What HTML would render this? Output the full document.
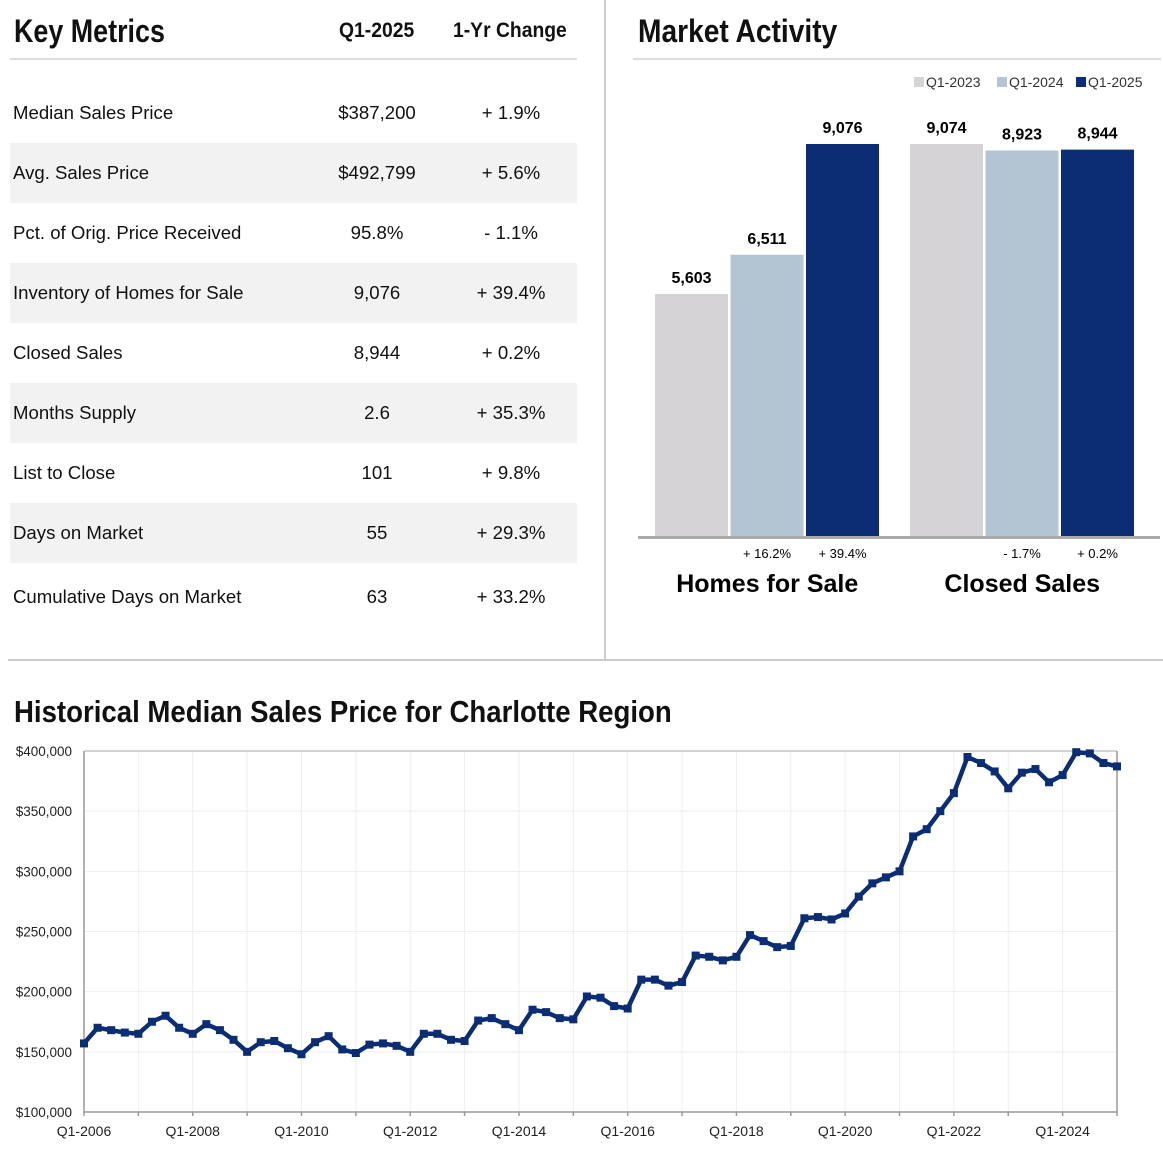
<!DOCTYPE html>
<html><head><meta charset="utf-8">
<style>
body{margin:0;width:1163px;height:1157px;background:#fff;font-family:"Liberation Sans",sans-serif;position:relative;overflow:hidden;color:#111}
.abs{position:absolute}
.h{font-family:"Liberation Sans",sans-serif;font-weight:bold;transform-origin:left top;white-space:nowrap}
.row{position:absolute;left:10px;width:567px;height:60px;font-size:18.6px;line-height:60px}
.row span{position:absolute}
.row .l{left:3px}
.row .v{left:307px;width:120px;text-align:center}
.row .c{left:441px;width:120px;text-align:center}
.stripe{background:#f2f2f2}
</style></head><body>
<div class="abs h" style="left:14px;top:13px;font-size:32px;transform:scaleX(0.84)">Key Metrics</div>
<div class="abs h" style="left:339px;top:19px;font-size:21px;transform:scaleX(0.92)">Q1-2025</div>
<div class="abs h" style="left:453px;top:19px;font-size:21px;transform:scaleX(0.92)">1-Yr Change</div>
<div class="abs" style="left:10px;top:58px;width:567px;height:2px;background:#ddd"></div>
<div id="tbl"></div>

<div class="abs" style="left:604px;top:0;width:2px;height:660px;background:#ccc"></div>
<div class="abs" style="left:8px;top:659px;width:1155px;height:2px;background:#ccc"></div>

<div class="abs h" style="left:638px;top:13px;font-size:32px;transform:scaleX(0.88)">Market Activity</div>
<div class="abs" style="left:633px;top:58px;width:528px;height:2px;background:#ddd"></div>
<svg class="abs" style="left:0;top:0" width="1163" height="660" id="bars"></svg>

<div class="abs h" style="left:14px;top:694px;font-size:31px;transform:scaleX(0.89)">Historical Median Sales Price for Charlotte Region</div>
<svg class="abs" style="left:0;top:730px" width="1163" height="427" id="line"></svg>

<script>
const metricLabels=["Median Sales Price","Avg. Sales Price","Pct. of Orig. Price Received","Inventory of Homes for Sale","Closed Sales","Months Supply","List to Close","Days on Market","Cumulative Days on Market"];
const metricValues=["$387,200","$492,799","95.8%","9,076","8,944","2.6","101","55","63"];
const metricChanges=["+ 1.9%","+ 5.6%","- 1.1%","+ 39.4%","+ 0.2%","+ 35.3%","+ 9.8%","+ 29.3%","+ 33.2%"];
const tbl=document.getElementById('tbl');
metricLabels.forEach((lab,i)=>{
  const r=document.createElement('div');
  r.className='row'+(i%2?' stripe':'');
  r.style.top=(83+i*60+(i==8?4:0))+'px';
  
  
  r.innerHTML='<span class="l">'+lab+'</span><span class="v">'+metricValues[i]+'</span><span class="c">'+metricChanges[i]+'</span>';
  tbl.appendChild(r);
});

const NS="http://www.w3.org/2000/svg";
function mk(svg,tag,attrs,txt){const e=document.createElementNS(NS,tag);for(const k in attrs)e.setAttribute(k,attrs[k]);if(txt!=null)e.textContent=txt;svg.appendChild(e);return e;}

// Bar chart
const groups=["Homes for Sale","Closed Sales"];
const seriesNames=["Q1-2023","Q1-2024","Q1-2025"];
const homesValues=[5603,6511,9076];
const closedValues=[9074,8923,8944];
const homesChanges=["","+ 16.2%","+ 39.4%"];
const closedChanges=["","- 1.7%","+ 0.2%"];
const colors=["#d5d3d6","#b3c4d2","#0b2d74"];
const bs=document.getElementById('bars');
const base=536, hMax=392;
const gx=[655,910], bw=73, bstep=75.5;
[homesValues,closedValues].forEach((vals,g)=>{
  const mx=Math.max(...vals);
  const ch=g?closedChanges:homesChanges;
  vals.forEach((v,i)=>{
    const h=v/mx*hMax, x=gx[g]+i*bstep;
    const r=mk(bs,'rect',{x:x,y:base-h,width:bw,height:h,fill:colors[i]});
    
    
    const t=mk(bs,'text',{x:x+bw/2,y:base-h-11,'text-anchor':'middle','font-size':16,'font-weight':'bold','font-family':'Liberation Sans'},v.toLocaleString('en-US'));
    
    
    if(ch[i]){const c=mk(bs,'text',{x:x+bw/2,y:558,'text-anchor':'middle','font-size':13,'font-family':'Liberation Sans'},ch[i]);
      
      }
  });
  const gl=mk(bs,'text',{x:gx[g]+bstep*1.5-1,y:592,'text-anchor':'middle','font-size':25,'font-weight':'bold','font-family':'Liberation Sans'},groups[g]);
  
  
});
const axl=mk(bs,'rect',{x:638,y:536,width:522,height:3,fill:'#aaa'});


[914,997,1076].forEach((x,i)=>{
  const sq=mk(bs,'rect',{x:x,y:77,width:10,height:10,fill:colors[i]});
  
  
  const t=mk(bs,'text',{x:x+12,y:87,'font-size':14,fill:'#333','font-family':'Liberation Sans'},seriesNames[i]);
  
  
});

// Line chart
const medianPrices=[157,170,168,166,165,175,180,170,165,173,168,160,150,158,159,153,148,158,163,152,149,156,157,155,150,165,165,160,159,176,178,173,168,185,183,178,177,196,195,188,186,210,210,205,208,230,229,226,229,247,242,237,238,261,262,260,265,279,290,295,300,329,335,350,365,395,390,383,369,382,385,374,380,399,398,390,387.2];
const yTicks=[100,150,200,250,300,350,400];
const xTickLabels=["Q1-2006","Q1-2008","Q1-2010","Q1-2012","Q1-2014","Q1-2016","Q1-2018","Q1-2020","Q1-2022","Q1-2024"];
const ls=document.getElementById('line');
const X0=84,X1=1117,Y0=382,Y1=21;
const xs=i=>X0+(X1-X0)*i/(medianPrices.length-1);
const ys=v=>Y0-(v-100)/300*(Y0-Y1);
for(let i=0;i<medianPrices.length;i+=4){
  const g=mk(ls,'line',{x1:xs(i),x2:xs(i),y1:Y1,y2:Y0,stroke:'#eee','stroke-width':1});
  
  
  const tk=mk(ls,'line',{x1:xs(i),x2:xs(i),y1:Y0,y2:Y0+4,stroke:'#999','stroke-width':1.5});
  
  
}
yTicks.forEach(v=>{
  const g=mk(ls,'line',{x1:X0,x2:X1,y1:ys(v),y2:ys(v),stroke:v==400?'#aaa':'#eee','stroke-width':1});
  
  
  const t=mk(ls,'text',{x:72,y:ys(v)+5,'text-anchor':'end','font-size':13.5,fill:'#222','font-family':'Liberation Sans'},'$'+v+',000');
  
  
});
xTickLabels.forEach((lab,k)=>{
  const t=mk(ls,'text',{x:xs(k*8),y:406,'text-anchor':'middle','font-size':14,fill:'#222','font-family':'Liberation Sans'},lab);
  
  
});
const ax=mk(ls,'path',{d:`M${X0} ${Y1}V${Y0}H${X1}V${Y1}`,fill:'none',stroke:'#999','stroke-width':1.5});


const pl=mk(ls,'polyline',{points:medianPrices.map((v,i)=>xs(i)+','+ys(v)).join(' '),fill:'none',stroke:'#0b2d74','stroke-width':4.5,'stroke-linejoin':'round'});


medianPrices.forEach((v,i)=>{
  const m=mk(ls,'rect',{x:xs(i)-4,y:ys(v)-4,width:8,height:8,fill:'#0b2d74'});
  
  
});
</script>
</body></html>
